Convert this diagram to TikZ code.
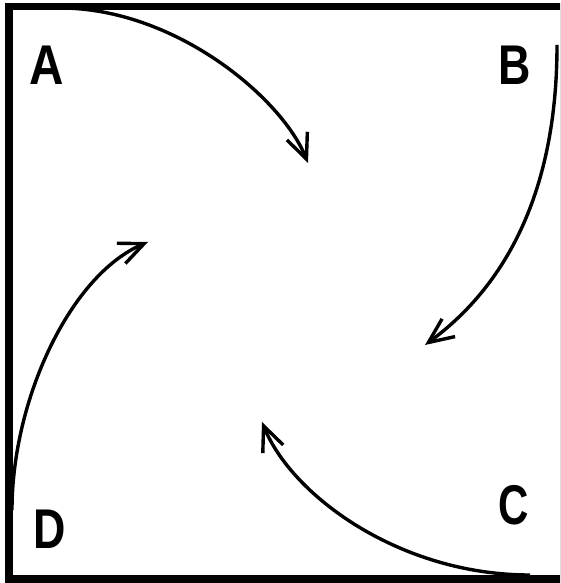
\documentclass[tikz,border=0pt]{standalone}
\usepackage{fontspec}
\setmainfont{Liberation Sans}
\usetikzlibrary{arrows.meta}
\begin{document}
\begin{tikzpicture}[x=1pt,y=1pt,
  corner/.style={inner sep=0pt,font=\fontsize{56}{60}\selectfont\bfseries},
  swirl/.style={black,line width=3.4pt,-{Straight Barb[length=25pt,width=22pt]}}]
\useasboundingbox (0,0) rectangle (560,583);
\clip (0,0) rectangle (560,583);
\draw[black,line width=7.5pt] (9,576.5) rectangle (563.5,4);
\node[corner] (A) at (47,518) {\scalebox{0.85}[1]{A}};
\node[corner] (B) at (515,518) {\scalebox{0.8}[1]{B}};
\node[corner] (C) at (514,78) {\scalebox{0.75}[1]{C}};
\node[corner] (D) at (50,54) {\scalebox{0.8}[1]{D}};
\coordinate (a0) at (60,575);
\coordinate (a1) at (308,420);
\coordinate (b0) at (557,538);
\coordinate (b1) at (425,238);
\coordinate (c0) at (530,8);
\coordinate (c1) at (262,161);
\coordinate (d0) at (12,73);
\coordinate (d1) at (148,341);
\draw[swirl] (a0) .. controls (175,575) and (282,485) .. (a1);
\draw[swirl] (b0) .. controls (557,383) and (500,293) .. (b1);
\draw[swirl] (c0) .. controls (400,8) and (292,87) .. (c1);
\draw[swirl] (d0) .. controls (12,183) and (70,308) .. (d1);
\end{tikzpicture}
\end{document}
